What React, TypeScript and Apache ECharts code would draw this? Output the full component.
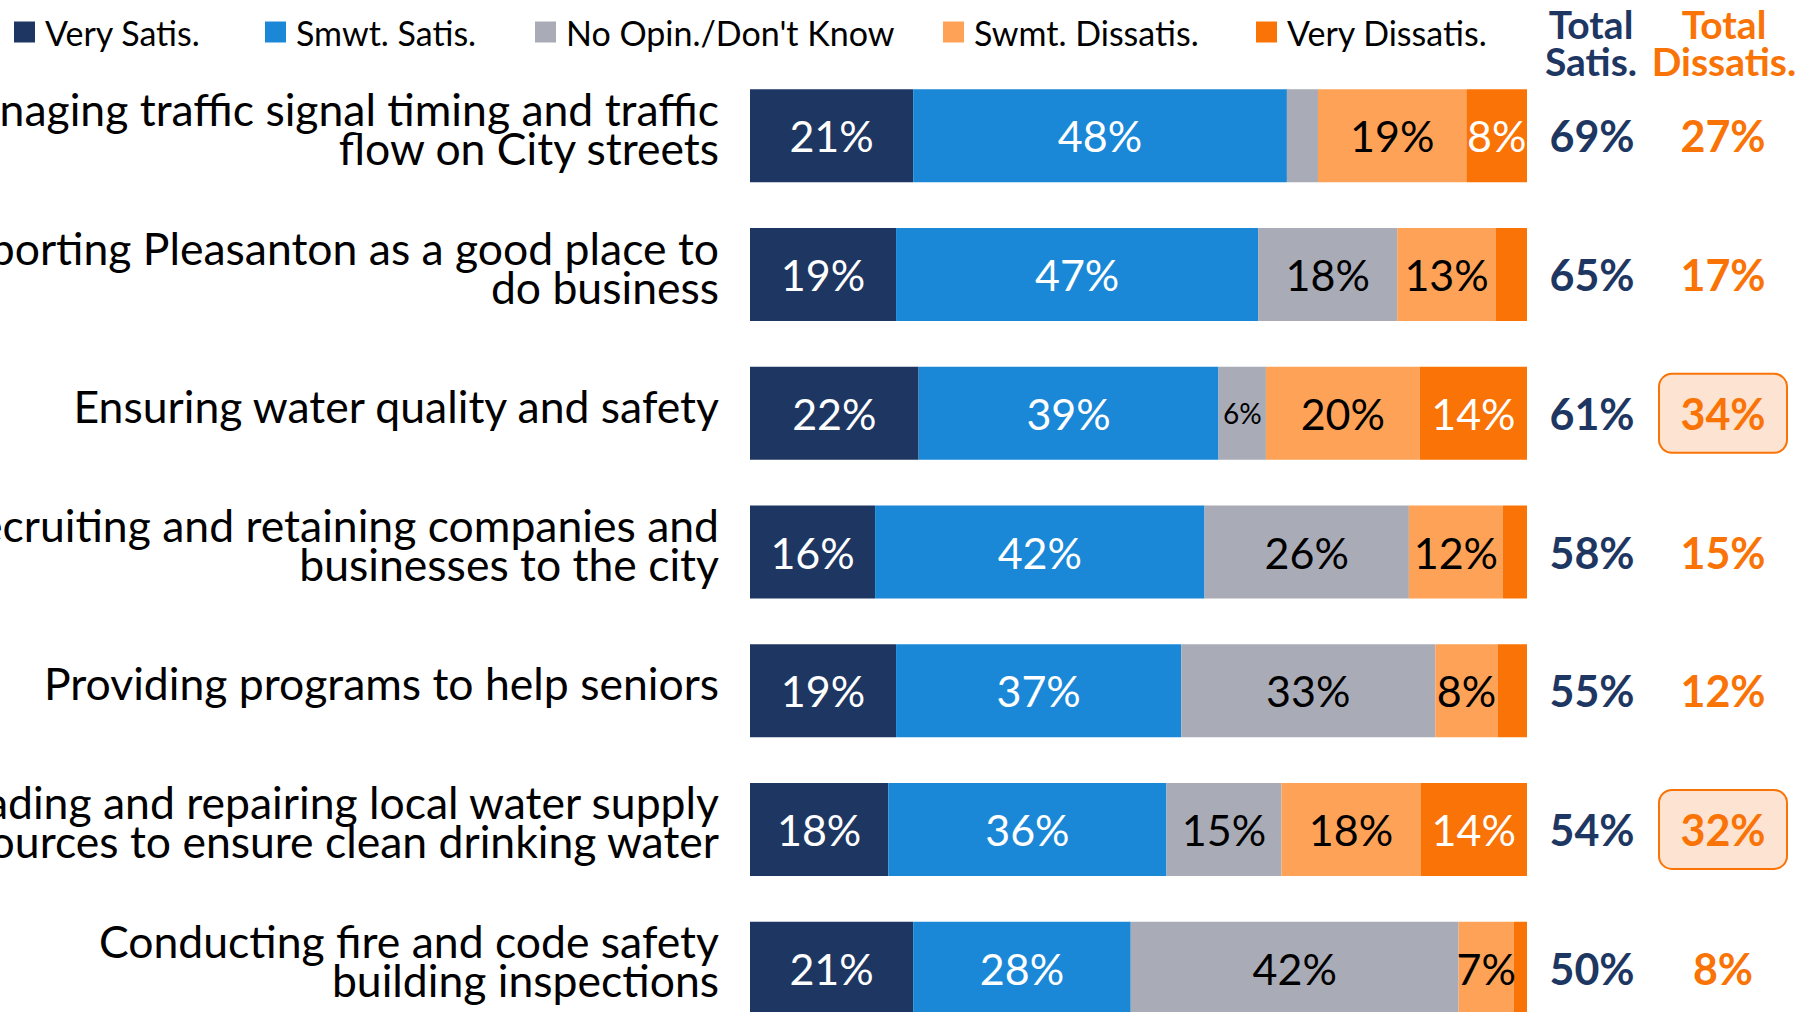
import React, { useEffect, useRef } from "react";
import * as echarts from "echarts";

const categories = [
  "Managing traffic signal timing and traffic\nflow on City streets",
  "Supporting Pleasanton as a good place to\ndo business",
  "Ensuring water quality and safety",
  "Recruiting and retaining companies and\nbusinesses to the city",
  "Providing programs to help seniors",
  "Upgrading and repairing local water supply\nsources to ensure clean drinking water",
  "Conducting fire and code safety\nbuilding inspections",
];

const seriesNames = [
  "Very Satis.",
  "Smwt. Satis.",
  "No Opin./Don't Know",
  "Swmt. Dissatis.",
  "Very Dissatis.",
];

const verySatis = [21.0, 18.8, 21.7, 16.1, 18.8, 17.8, 21.0];
const smwtSatis = [48.1, 46.6, 38.6, 42.4, 36.7, 35.8, 28.0];
const noOpinion = [4.0, 17.9, 6.1, 26.3, 32.7, 14.8, 42.2];
const swmtDissatis = [19.1, 12.7, 19.8, 12.1, 8.0, 17.9, 7.1];
const veryDissatis = [7.8, 4.0, 13.8, 3.1, 3.8, 13.7, 1.7];

const totalSatis = [69, 65, 61, 58, 55, 54, 50];
const totalDissatis = [27, 17, 34, 15, 12, 32, 8];
const highlightDissatis = [false, false, true, false, false, true, false];

const colors = ["#1E3762", "#1A88D7", "#A9ABB7", "#FDA256", "#F97306"];
const labelColors = ["#FFFFFF", "#FFFFFF", "#000000", "#000000", "#FFFFFF"];
const legendX = [14, 265, 535, 943, 1256];

const FONT = "Lato, 'Noto Sans', sans-serif";
const NAVY = "#1E3762";
const ORANGE = "#F97306";

export default function App() {
  const ref = useRef<HTMLDivElement>(null);

  useEffect(() => {
    if (!ref.current) return;
    const chart = echarts.init(ref.current, undefined, { renderer: "svg" });
    const allValues = [verySatis, smwtSatis, noOpinion, swmtDissatis, veryDissatis];

    const series = allValues.map((vals, si) => ({
      name: seriesNames[si],
      type: "bar",
      stack: "total",
      barWidth: 93,
      itemStyle: { color: colors[si] },
      label: {
        show: true,
        position: "inside",
        color: labelColors[si],
        fontFamily: FONT,
        fontSize: 43,
        formatter: (p: any) => Math.round(p.value) + "%",
      },
      data: vals.map((v) => ({
        value: v,
        label: { show: v >= 5, fontSize: v < 7 ? 28 : 43 },
      })),
    }));

    const option: any = {
      animation: false,
      backgroundColor: "#FFFFFF",
      textStyle: { fontFamily: FONT },
      legend: seriesNames.map((n, i) => ({
        data: [n],
        left: legendX[i],
        top: 15,
        padding: 0,
        icon: "rect",
        itemWidth: 21,
        itemHeight: 21,
        selectedMode: false,
        textStyle: { fontFamily: FONT, fontSize: 34, color: "#000", padding: [0, 0, 0, 5] },
      })),
      grid: {
        left: 750,
        right: 272,
        top: 66.5,
        bottom: -25.5,
        containLabel: false,
        outerBoundsMode: "none",
      },
      xAxis: { type: "value", min: 0, max: 100, show: false },
      yAxis: [
        {
          type: "category",
          data: categories,
          inverse: true,
          axisLine: { show: false },
          axisTick: { show: false },
          axisLabel: {
            margin: 31,
            align: "right",
            formatter: (v: string) =>
              v.split("\n").map((line) => `{a|${line}}`).join("\n") + "\n{sp| }",
            rich: {
              a: { fontFamily: FONT, fontSize: 44.5, lineHeight: 39, color: "#000" },
              sp: { fontSize: 10, lineHeight: 16 },
            },
          },
        },
        {
          type: "category",
          data: categories,
          inverse: true,
          position: "right",
          axisLine: { show: false },
          axisTick: { show: false },
          axisLabel: {
            margin: 13,
            align: "left",
            formatter: (_v: string, i: number) =>
              `{s|${totalSatis[i]}%}{g| }{${highlightDissatis[i] ? "db" : "d"}|${totalDissatis[i]}%}`,
            rich: {
              s: { fontFamily: FONT, fontWeight: "bold", fontSize: 43, color: NAVY, width: 104, align: "center" },
              g: { width: 16, fontSize: 10 },
              d: { fontFamily: FONT, fontWeight: "bold", fontSize: 43, color: ORANGE, width: 126, height: 77, align: "center" },
              db: {
                fontFamily: FONT,
                fontWeight: "bold",
                fontSize: 43,
                color: ORANGE,
                width: 126,
                height: 77,
                align: "center",
                backgroundColor: "#FDE4D2",
                borderColor: ORANGE,
                borderWidth: 2,
                borderRadius: 12,
              },
            },
          },
        },
      ],
      graphic: [
        {
          type: "text",
          x: 1591,
          y: 5,
          style: {
            text: "Total\nSatis.",
            fill: NAVY,
            font: `bold 39px ${FONT}`,
            lineHeight: 37,
            align: "center",
            verticalAlign: "top",
          },
        },
        {
          type: "text",
          x: 1724,
          y: 5,
          style: {
            text: "Total\nDissatis.",
            fill: ORANGE,
            font: `bold 39px ${FONT}`,
            lineHeight: 37,
            align: "center",
            verticalAlign: "top",
          },
        },
      ],
      series,
    };

    chart.setOption(option);
    return () => chart.dispose();
  }, []);

  return (
    <div
      ref={ref}
      style={{ position: "absolute", left: 0, top: 0, width: 1799, height: 1012 }}
    />
  );
}
